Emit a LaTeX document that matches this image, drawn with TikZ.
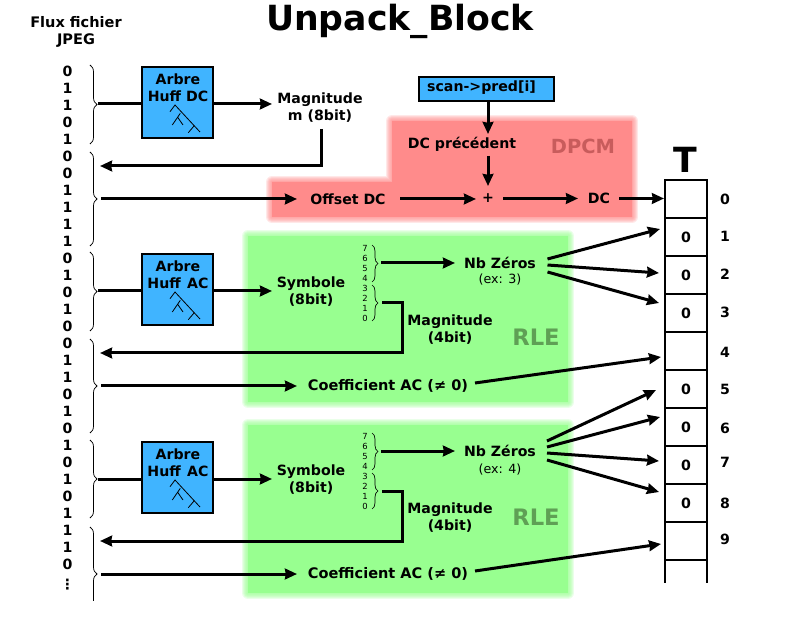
\documentclass[tikz,border=0pt]{standalone}
\usepackage{fontspec}
\setmainfont{DejaVu Sans}
\usetikzlibrary{arrows.meta,decorations.pathreplacing}
\definecolor{boxblue}{HTML}{40B4FF}
\definecolor{softred}{HTML}{FF8B8B}
\definecolor{softgreen}{HTML}{98FF90}
\definecolor{rletext}{HTML}{5FA055}
\definecolor{dpcmtext}{HTML}{C85C5C}
\tikzset{
  txt/.style={inner sep=0pt,align=center,font=\fontsize{10.6pt}{12.75pt}\selectfont\bfseries},
  widetxt/.style={inner sep=0pt,align=center,font=\fontsize{10.9pt}{12.75pt}\selectfont\bfseries},
  bit/.style={inner sep=0pt,font=\fontsize{10.6pt}{12.75pt}\selectfont\bfseries},
  tinybit/.style={inner sep=0pt,font=\fontsize{6.3pt}{7pt}\selectfont},
  smalltxt/.style={inner sep=0pt,font=\fontsize{9.5pt}{11pt}\selectfont},
  bigtxt/.style={inner sep=0pt,font=\fontsize{26pt}{30pt}\selectfont\bfseries},
  rlelabel/.style={inner sep=0pt,text=rletext,font=\fontsize{17pt}{20pt}\selectfont\bfseries},
  dpcmlabel/.style={inner sep=0pt,text=dpcmtext,font=\fontsize{14.6pt}{18pt}\selectfont\bfseries},
  huffbox/.style={draw=black,fill=boxblue,line width=1.7pt,minimum width=53.5pt,minimum height=53.5pt,inner sep=0pt},
  scanbox/.style={draw=black,fill=boxblue,line width=1.7pt,minimum width=101.5pt,minimum height=18.5pt,inner sep=0pt},
  cellbox/.style={draw=black,line width=1.5pt,minimum width=31.5pt,minimum height=28.5pt,inner sep=0pt,font=\fontsize{10.6pt}{12.75pt}\selectfont\bfseries},
  wire/.style={draw=black,line width=2.25pt},
  arr/.style={wire,-{Stealth[length=9pt,width=8pt,inset=0.6pt]}},
  bigbrace/.style={draw=black,line width=0.55pt,decorate,decoration={brace,amplitude=5.25pt}},
  tinybrace/.style={draw=black,line width=0.5pt,decorate,decoration={brace,amplitude=4.5pt}},
  treeline/.style={draw=black,line width=0.6pt},
}
\newcommand\softregion[2]{%
  \foreach \w in {9pt,7.5pt,6pt,4.5pt,3pt,1.5pt}{\draw[#1,line join=round,line width=\w,opacity=0.2] #2;}%
  \fill[#1] #2;}
\newcommand\hufftree[1]{%
  \draw[treeline,shift={(#1)}] (-7.5,9.2) -- (-2.5,2.5) -- (22.5,29.5)
    (2.8,10.8) -- (-5.2,22.5) (0.2,14.8) -- (5.5,22.5) (16.5,23.5) -- (10.8,30.2);}
\begin{document}
\begin{tikzpicture}[x=0.75pt,y=-0.75pt]
\useasboundingbox (0,0) rectangle (800,620);
% soft regions
\softregion{softred}{(392,121) -- (632,121) -- (632,217) -- (272,217) -- (272,182) -- (392,182) -- cycle}
\softregion{softgreen}{(248,236) rectangle (568,402)}
\softregion{softgreen}{(248,425) rectangle (568,593)}
% titles
\node[bigtxt] (title) at (400,21) {Unpack\_Block};
\node[widetxt] (flux) at (76,32) {Flux fichier\\JPEG};
\node[bigtxt] (tlabel) at (685,160) {T};
% bit column
\foreach \b [count=\i from 0] in {0,1,1,0,1,0,0,1,1,1,1,0,1,0,1,0,0,1,1,0,1,0,1,0,1,0,1,1,1,0}{
  \node[bit] (bit\i) at (67.5,{71+17*\i}) {\b};
}
\node[inner sep=0pt] (bitdots) at (67.5,585) {\fontsize{10.6pt}{12pt}\selectfont\bfseries ⋮};
% braces
\draw[bigbrace] (90,65) -- (90,144);
\draw[bigbrace] (90,152) -- (90,246);
\draw[bigbrace] (90,252) -- (90,331);
\draw[bigbrace] (90,339) -- (90,433);
\draw[bigbrace] (90,440) -- (90,518);
\begin{scope}
  \clip (80,520) rectangle (110,600);
  \draw[bigbrace] (90,527) -- (90,621);
\end{scope}
\coordinate (b1) at (98,104);
\coordinate (b2out) at (100,166);
\coordinate (b2in) at (101,199);
\coordinate (b3) at (98,291);
\coordinate (b4out) at (100,353);
\coordinate (b4in) at (101,386);
\coordinate (b5) at (98,479);
\coordinate (b6out) at (100,541);
\coordinate (b6in) at (101,574);
% huffman boxes
\node[huffbox] (hdc) at (177.5,102.5) {};
\node[txt] (hdct) at (178,87.5) {Arbre\\Huff DC};
\hufftree{hdc}
\node[huffbox] (hac1) at (177.5,289.5) {};
\node[txt] (hac1t) at (178,274.5) {Arbre\\Huff\hspace{0.45em}AC};
\hufftree{hac1}
\node[huffbox] (hac2) at (177.5,477.5) {};
\node[txt] (hac2t) at (178,462.5) {Arbre\\Huff\hspace{0.45em}AC};
\hufftree{hac2}
% DC part
\node[txt] (magm) at (320,107.5) {Magnitude\\m (8bit)};
\node[scanbox] (scan) at (486.5,89) {};
\node[txt] (scant) at (481.5,88) {scan->pred[i]};
\node[txt] (dcprev) at (462,144) {DC précédent};
\node[dpcmlabel] (dpcm) at (583,146) {DPCM};
\node[txt] (offset) at (348,199) {Offset DC};
\node[txt] (plus) at (488,198) {+};
\node[txt] (dc) at (599,198.5) {DC};
% table
\foreach \i/\y/\v in {0/199/{},1/237/0,2/275/0,3/313/0,4/351/{},5/389/0,6/427/0,7/465/0,8/503/0,9/541/{}}{
  \node[cellbox] (c\i) at (686,\y) {\v};
}
\begin{scope}
  \clip (650,555) rectangle (720,582);
  \node[cellbox] (c10) at (686,579) {};
\end{scope}
\foreach \i/\y in {0/199,1/236,2/274,3/312,4/352,5/389,6/428,7/462,8/503,9/539}{
  \node[bit] (idx\i) at (725,\y) {\i};
}
% RLE 1
\node[txt] (sym1) at (311,291.5) {Symbole\\(8bit)};
\foreach \d [count=\i from 0] in {7,6,5,4,3,2,1,0}{\node[tinybit] (ta\i) at (365,{248+10*\i}) {\d};}
\draw[tinybrace] (372,245) -- (372,282);
\draw[tinybrace] (372,285) -- (372,321);
\coordinate (tb1) at (381,263);
\coordinate (tb2) at (382,303);
\node[txt] (nb1) at (500,263) {Nb Zéros};
\node[smalltxt] (ex1) at (500,280) {(ex: 3)};
\node[txt] (mag1) at (450,329.5) {Magnitude\\(4bit)};
\node[rlelabel] (rle1) at (536,337) {RLE};
\node[widetxt] (coef1) at (388,386) {Coefficient AC (≠ 0)};
% RLE 2
\node[txt] (sym2) at (311,479.5) {Symbole\\(8bit)};
\foreach \d [count=\i from 0] in {7,6,5,4,3,2,1,0}{\node[tinybit] (tc\i) at (365,{436+10*\i}) {\d};}
\draw[tinybrace] (372,433) -- (372,470);
\draw[tinybrace] (372,473) -- (372,509);
\coordinate (td1) at (381,451);
\coordinate (td2) at (382,491);
\node[txt] (nb2) at (500,451) {Nb Zéros};
\node[smalltxt] (ex2) at (500,470) {(ex: 4)};
\node[txt] (mag2) at (450,517.5) {Magnitude\\(4bit)};
\node[rlelabel] (rle2) at (536,517) {RLE};
\node[widetxt] (coef2) at (388,574) {Coefficient AC (≠ 0)};
% connectors: DC
\draw[wire] (b1) -- (hdc.west |- b1);
\draw[arr] (hdc.east |- b1) -- (272,104);
\draw[arr] (321,129) -- (321,166) -- (b2out);
\draw[arr] (b2in) -- (297,199);
\draw[arr] (400,199) -- (476,199);
\draw[arr] (503,198.5) -- (578,198.5);
\draw[arr] (619,198.5) -- (c0.west |- 0,198.5);
\draw[arr] (scan.south -| plus) -- (488,134);
\draw[arr] (488,156) -- (488,186);
% connectors: RLE 1
\draw[wire] (b3) -- (hac1.west |- b3);
\draw[arr] (hac1.east |- b3) -- (272,291);
\draw[arr] (tb1) -- (455,263);
\draw[arr] (tb2) -- (402,303) -- (402,353) -- (b4out);
\draw[arr] (b4in) -- (297,386);
\draw[arr] (547.5,259) -- (660,229);
\draw[arr] (547.5,265) -- (659,273);
\draw[arr] (547.5,272) -- (659,303);
\draw[arr] (475,383) -- (661,357);
% connectors: RLE 2
\draw[wire] (b5) -- (hac2.west |- b5);
\draw[arr] (hac2.east |- b5) -- (272,479);
\draw[arr] (td1) -- (455,451);
\draw[arr] (td2) -- (402,491) -- (402,541) -- (b6out);
\draw[arr] (b6in) -- (297,574);
\draw[arr] (547,441) -- (656,390);
\draw[arr] (547,447) -- (660,417);
\draw[arr] (547,453) -- (659,461);
\draw[arr] (547,460) -- (659,492);
\draw[arr] (475,571) -- (661,544);
\end{tikzpicture}
\end{document}
